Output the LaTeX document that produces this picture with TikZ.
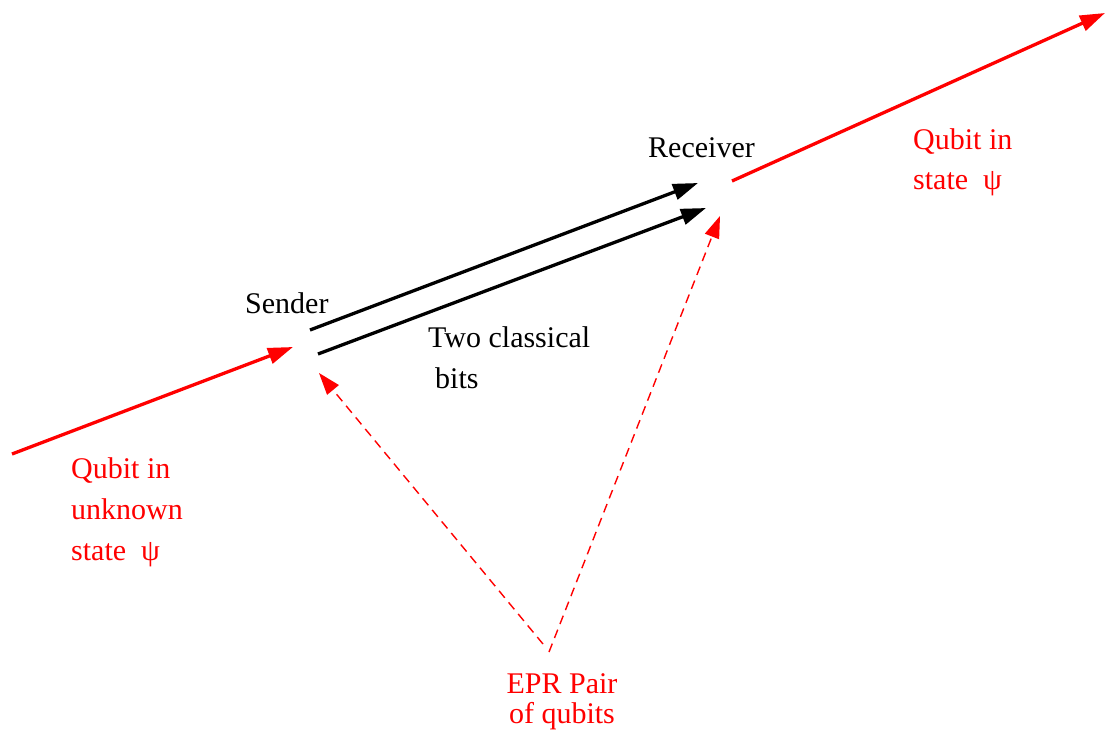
\documentclass[tikz,border=0pt]{standalone}
\usepackage{fontspec}
\setmainfont{Liberation Serif}
\usetikzlibrary{arrows.meta}
\begin{document}
\begin{tikzpicture}[x=1pt,y=-1pt,
  lbl/.style={inner sep=0pt,font=\fontsize{30}{41}\selectfont},
  redlbl/.style={lbl,text=red,align=left},
  thick red/.style={draw=red,line width=3.3pt,-{Triangle[length=25pt,width=16pt]}},
  thick black/.style={draw=black,line width=3.3pt,-{Triangle[length=25pt,width=16pt]}},
  epr/.style={draw=red,line width=1.4pt,dash pattern=on 9pt off 6pt,-{Triangle[length=22pt,width=15pt]}}]
\useasboundingbox (0,0) rectangle (1106,734);
% end points
\coordinate (inStart) at (12,454);
\coordinate (sendIn) at (293,347);
\coordinate (b1s) at (310,330);
\coordinate (b1e) at (698,183);
\coordinate (b2s) at (318,354);
\coordinate (b2e) at (706,208);
\coordinate (outStart) at (732,181);
\coordinate (outEnd) at (1105,13);
\coordinate (eprL) at (543,644);
\coordinate (eprR) at (549,652);
\coordinate (sendE) at (319,373);
\coordinate (recvE) at (720,216);
% connectors
\draw[thick red] (inStart) -- (sendIn);
\draw[thick red] (outStart) -- (outEnd);
\draw[thick black] (b1s) -- (b1e);
\draw[thick black] (b2s) -- (b2e);
\draw[epr] (eprL) -- (sendE);
\draw[epr] (eprR) -- (recvE);
% labels (base = baseline of last line)
\node[lbl,anchor=base west] (sender) at (245,313) {Sender};
\node[lbl,anchor=base west] (receiver) at (648,157) {Receiver};
\node[lbl,anchor=base west,align=left] (bits) at (428,388) {Two classical\\\hspace{7pt}bits};
\node[redlbl,anchor=base west] (qin) at (71,560) {Qubit in\\unknown\\state\ \ ψ};
\node[redlbl,anchor=base west,font=\fontsize{30}{40}\selectfont] (qout) at (913,189) {Qubit in\\state\ \ ψ};
\node[lbl,text=red,align=center,anchor=base,font=\fontsize{30}{30}\selectfont] (eprlbl) at (562,723) {EPR Pair\\of qubits};
\end{tikzpicture}
\end{document}
